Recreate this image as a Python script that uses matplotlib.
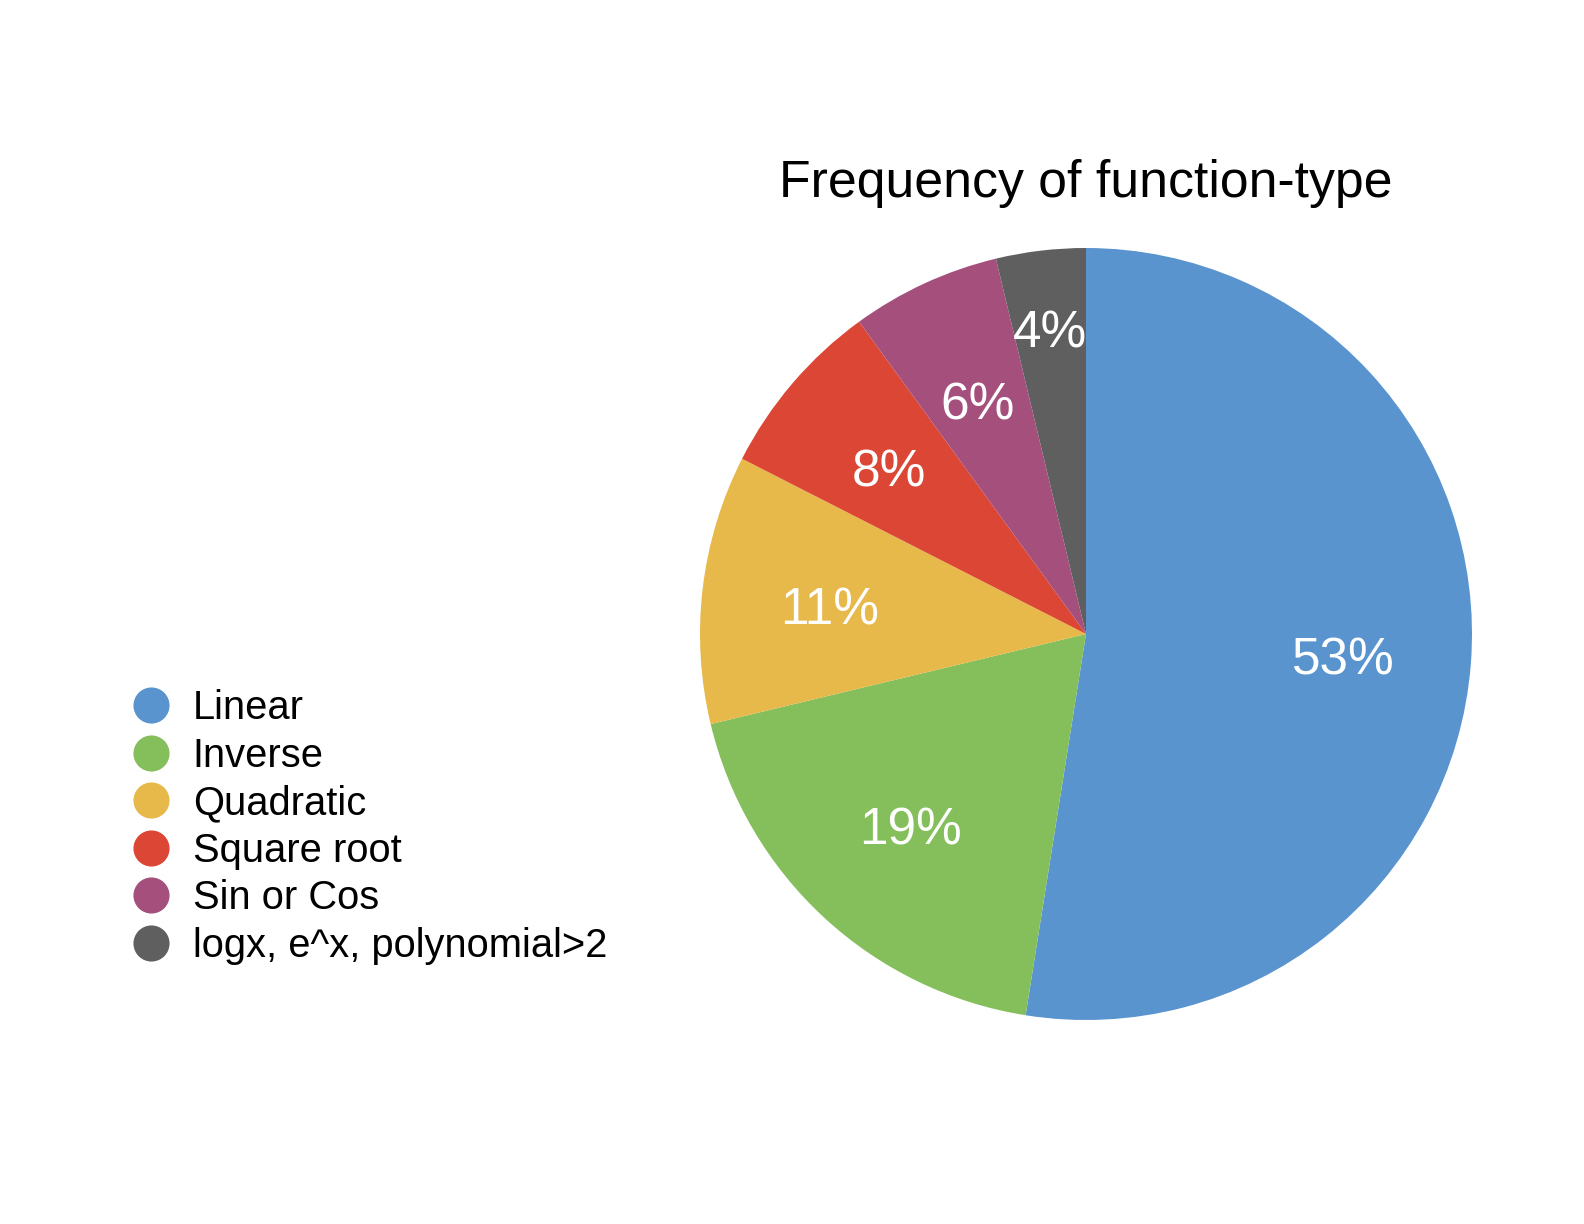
import matplotlib
matplotlib.use("Agg")
import matplotlib.pyplot as plt
from matplotlib.lines import Line2D

plt.rcParams['font.family'] = ['Liberation Sans', 'DejaVu Sans']

# counts per function type
categories = ["Linear", "Inverse", "Quadratic", "Square root", "Sin or Cos",
              "logx, e^x, polynomial>2"]
counts = [42, 15, 9, 6, 5, 3]
colors = ["#5A94CE", "#84BF5B", "#E7B84A", "#DC4634", "#A54F7D", "#5F5F5F"]

W, H = 1584, 1224
fig = plt.figure(figsize=(W / 100, H / 100), dpi=100)

# pie centre and radius in pixels
cx, cy, r = 1086, 634, 386
ax = fig.add_axes([(cx - r) / W, (H - cy - r) / H, 2 * r / W, 2 * r / H])


def pct_label(p):
    # round half up (52.5 -> 53)
    return f"{int(p + 0.5001)}%"


wedges, texts, autotexts = ax.pie(counts, colors=colors, startangle=90, counterclock=False,
                                  radius=1, autopct=pct_label, pctdistance=0.67,
                                  wedgeprops=dict(linewidth=0),
                                  textprops=dict(color="white", fontsize=37))
# the smallest slice label sits further out
x, y = autotexts[-1].get_position()
autotexts[-1].set_position((x * 0.8 / 0.67, y * 0.8 / 0.67))
for t in autotexts:
    px, py = t.get_position()
    t.set_position((px, py - 0.018))

ax.set_xlim(-1, 1)
ax.set_ylim(-1, 1)
ax.set_aspect("equal")
ax.axis("off")

fig.text(cx / W, 1 - 183 / H, "Frequency of function-type", ha="center", va="center",
         fontsize=37.3, color="black")

handles = [Line2D([], [], marker="o", linestyle="none", markersize=26, markerfacecolor=c,
                  markeredgewidth=0) for c in colors]
fig.legend(handles, categories, loc="upper left", bbox_to_anchor=(131 / W, 1 - 689 / H),
           frameon=False, fontsize=28.7, handlelength=1.0, handletextpad=0.55,
           labelspacing=0.24, borderpad=0, borderaxespad=0)

fig.savefig("out.png", dpi=100, facecolor="white")
